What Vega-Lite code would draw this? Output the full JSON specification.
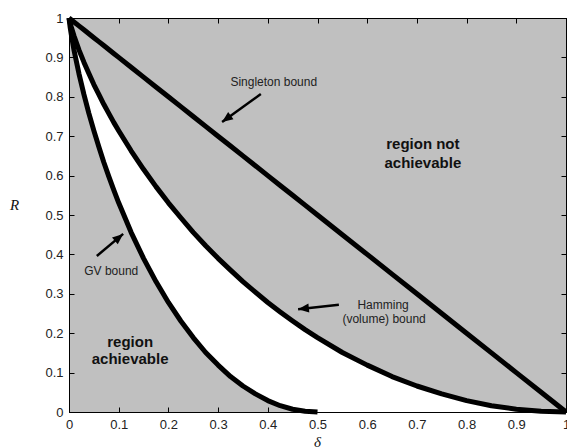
{
  "$schema": "https://vega.github.io/schema/vega-lite/v6.json",
  "width": 497,
  "height": 394,
  "autosize": {"type": "none"},
  "padding": {"left": 69, "top": 18, "right": 1, "bottom": 35},
  "background": "white",
  "config": {
    "view": {"fill": "#c0c0c0", "stroke": "#000000", "strokeWidth": 1},
    "axis": {
      "domainColor": "#000000",
      "domainWidth": 1,
      "tickColor": "#000000",
      "tickWidth": 1,
      "tickSize": -5,
      "grid": false,
      "labelFont": "Liberation Sans",
      "labelFontSize": 13,
      "labelColor": "#222222",
      "labelPadding": 11,
      "labelFlush": false,
      "labelOverlap": false,
      "titleFont": "Liberation Serif",
      "titleFontStyle": "italic",
      "titleFontWeight": "normal",
      "titleFontSize": 15,
      "titleColor": "#111111",
      "zindex": 1
    }
  },
  "datasets": {
    "bounds": [
      {"delta": 0, "gv": 1, "ham": 1, "sing": 1},
      {"delta": 0.0025, "gv": 0.975, "ham": 0.986, "sing": 0.9975},
      {"delta": 0.005, "gv": 0.955, "ham": 0.975, "sing": 0.995},
      {"delta": 0.01, "gv": 0.919, "ham": 0.955, "sing": 0.99},
      {"delta": 0.02, "gv": 0.859, "ham": 0.919, "sing": 0.98},
      {"delta": 0.03, "gv": 0.806, "ham": 0.888, "sing": 0.97},
      {"delta": 0.04, "gv": 0.758, "ham": 0.859, "sing": 0.96},
      {"delta": 0.05, "gv": 0.714, "ham": 0.831, "sing": 0.95},
      {"delta": 0.06, "gv": 0.673, "ham": 0.806, "sing": 0.94},
      {"delta": 0.07, "gv": 0.634, "ham": 0.781, "sing": 0.93},
      {"delta": 0.08, "gv": 0.598, "ham": 0.758, "sing": 0.92},
      {"delta": 0.09, "gv": 0.564, "ham": 0.735, "sing": 0.91},
      {"delta": 0.1, "gv": 0.531, "ham": 0.714, "sing": 0.9},
      {"delta": 0.125, "gv": 0.456, "ham": 0.663, "sing": 0.875},
      {"delta": 0.15, "gv": 0.39, "ham": 0.616, "sing": 0.85},
      {"delta": 0.175, "gv": 0.331, "ham": 0.572, "sing": 0.825},
      {"delta": 0.2, "gv": 0.278, "ham": 0.531, "sing": 0.8},
      {"delta": 0.225, "gv": 0.231, "ham": 0.493, "sing": 0.775},
      {"delta": 0.25, "gv": 0.189, "ham": 0.456, "sing": 0.75},
      {"delta": 0.275, "gv": 0.151, "ham": 0.422, "sing": 0.725},
      {"delta": 0.3, "gv": 0.119, "ham": 0.39, "sing": 0.7},
      {"delta": 0.325, "gv": 0.09, "ham": 0.36, "sing": 0.675},
      {"delta": 0.35, "gv": 0.066, "ham": 0.331, "sing": 0.65},
      {"delta": 0.375, "gv": 0.046, "ham": 0.304, "sing": 0.625},
      {"delta": 0.4, "gv": 0.029, "ham": 0.278, "sing": 0.6},
      {"delta": 0.425, "gv": 0.016, "ham": 0.254, "sing": 0.575},
      {"delta": 0.45, "gv": 0.007, "ham": 0.231, "sing": 0.55},
      {"delta": 0.475, "gv": 0.002, "ham": 0.209, "sing": 0.525},
      {"delta": 0.5, "gv": 0, "ham": 0.189, "sing": 0.5},
      {"delta": 0.55, "gv": 0, "ham": 0.151, "sing": 0.45},
      {"delta": 0.6, "gv": 0, "ham": 0.119, "sing": 0.4},
      {"delta": 0.65, "gv": 0, "ham": 0.09, "sing": 0.35},
      {"delta": 0.7, "gv": 0, "ham": 0.066, "sing": 0.3},
      {"delta": 0.75, "gv": 0, "ham": 0.046, "sing": 0.25},
      {"delta": 0.8, "gv": 0, "ham": 0.029, "sing": 0.2},
      {"delta": 0.85, "gv": 0, "ham": 0.016, "sing": 0.15},
      {"delta": 0.9, "gv": 0, "ham": 0.007, "sing": 0.1},
      {"delta": 0.95, "gv": 0, "ham": 0.002, "sing": 0.05},
      {"delta": 1, "gv": 0, "ham": 0, "sing": 0}
    ],
    "arrows": [
      {"name": "singleton", "tx": 0.386, "ty": 0.807, "hx": 0.308, "hy": 0.736},
      {"name": "hamming", "tx": 0.543, "ty": 0.272, "hx": 0.461, "hy": 0.261},
      {"name": "gv", "tx": 0.056, "ty": 0.396, "hx": 0.109, "hy": 0.452}
    ],
    "notes": [
      {"label": "Singleton bound", "delta": 0.412, "R": 0.838, "kind": "plain"},
      {"label": "Hamming", "delta": 0.632, "R": 0.272, "kind": "plain"},
      {"label": "(volume) bound", "delta": 0.634, "R": 0.236, "kind": "plain"},
      {"label": "GV bound", "delta": 0.085, "R": 0.358, "kind": "plain"},
      {"label": "region not", "delta": 0.712, "R": 0.68, "kind": "bold"},
      {"label": "achievable", "delta": 0.712, "R": 0.632, "kind": "bold"},
      {"label": "region", "delta": 0.123, "R": 0.178, "kind": "bold"},
      {"label": "achievable", "delta": 0.123, "R": 0.135, "kind": "bold"}
    ]
  },
  "resolve": {"axis": {"x": "independent", "y": "independent"}},
  "layer": [
    {
      "data": {"name": "bounds"},
      "mark": {"type": "area", "color": "#ffffff", "opacity": 1},
      "encoding": {
        "x": {
          "field": "delta", "type": "quantitative",
          "scale": {"domain": [0, 1], "nice": false, "zero": false},
          "axis": {
            "orient": "bottom",
            "values": [0, 0.1, 0.2, 0.3, 0.4, 0.5, 0.6, 0.7, 0.8, 0.9, 1],
            "format": "~g",
            "title": "δ",
            "titleX": 248,
            "titleY": 29,
            "titleBaseline": "middle"
          }
        },
        "y": {
          "field": "gv", "type": "quantitative",
          "scale": {"domain": [0, 1], "nice": false, "zero": false},
          "axis": {
            "orient": "left",
            "values": [0, 0.1, 0.2, 0.3, 0.4, 0.5, 0.6, 0.7, 0.8, 0.9, 1],
            "format": "~g",
            "title": "R",
            "titleAngle": 0,
            "titleX": -55,
            "titleY": 186,
            "titleAlign": "center",
            "titleBaseline": "middle"
          }
        },
        "y2": {"field": "ham"}
      }
    },
    {
      "data": {"name": "bounds"},
      "mark": {"type": "line", "color": "#000000", "strokeWidth": 5, "strokeJoin": "round"},
      "encoding": {
        "x": {
          "field": "delta", "type": "quantitative",
          "axis": {
            "orient": "top",
            "values": [0, 0.1, 0.2, 0.3, 0.4, 0.5, 0.6, 0.7, 0.8, 0.9, 1],
            "labels": false,
            "title": null
          }
        },
        "y": {
          "field": "sing", "type": "quantitative",
          "axis": {
            "orient": "right",
            "values": [0, 0.1, 0.2, 0.3, 0.4, 0.5, 0.6, 0.7, 0.8, 0.9, 1],
            "labels": false,
            "title": null
          }
        }
      }
    },
    {
      "data": {"name": "bounds"},
      "mark": {"type": "line", "color": "#000000", "strokeWidth": 5, "strokeJoin": "round"},
      "encoding": {
        "x": {"field": "delta", "type": "quantitative", "axis": null},
        "y": {"field": "ham", "type": "quantitative", "axis": null}
      }
    },
    {
      "data": {"name": "bounds"},
      "transform": [{"filter": "datum.delta <= 0.5"}],
      "mark": {"type": "line", "color": "#000000", "strokeWidth": 5, "strokeJoin": "round"},
      "encoding": {
        "x": {"field": "delta", "type": "quantitative", "axis": null},
        "y": {"field": "gv", "type": "quantitative", "axis": null}
      }
    },
    {
      "data": {"name": "arrows"},
      "mark": {"type": "rule", "color": "#000000", "strokeWidth": 2.5},
      "encoding": {
        "x": {"field": "tx", "type": "quantitative", "axis": null},
        "y": {"field": "ty", "type": "quantitative", "axis": null},
        "x2": {"field": "hx"},
        "y2": {"field": "hy"}
      }
    },
    {
      "data": {"name": "arrows"},
      "transform": [{"filter": "datum.name == 'singleton'"}],
      "mark": {"type": "point", "shape": "M0,0L0.75,1.8L-0.75,1.8Z", "size": 144, "filled": true, "color": "#000000", "opacity": 1, "angle": 234, "strokeWidth": 0},
      "encoding": {
        "x": {"field": "hx", "type": "quantitative", "axis": null},
        "y": {"field": "hy", "type": "quantitative", "axis": null}
      }
    },
    {
      "data": {"name": "arrows"},
      "transform": [{"filter": "datum.name == 'hamming'"}],
      "mark": {"type": "point", "shape": "M0,0L0.75,1.8L-0.75,1.8Z", "size": 144, "filled": true, "color": "#000000", "opacity": 1, "angle": 264, "strokeWidth": 0},
      "encoding": {
        "x": {"field": "hx", "type": "quantitative", "axis": null},
        "y": {"field": "hy", "type": "quantitative", "axis": null}
      }
    },
    {
      "data": {"name": "arrows"},
      "transform": [{"filter": "datum.name == 'gv'"}],
      "mark": {"type": "point", "shape": "M0,0L0.75,1.8L-0.75,1.8Z", "size": 144, "filled": true, "color": "#000000", "opacity": 1, "angle": 50, "strokeWidth": 0},
      "encoding": {
        "x": {"field": "hx", "type": "quantitative", "axis": null},
        "y": {"field": "hy", "type": "quantitative", "axis": null}
      }
    },
    {
      "data": {"name": "notes"},
      "transform": [{"filter": "datum.kind == 'plain'"}],
      "mark": {"type": "text", "font": "Liberation Sans", "fontSize": 12, "color": "#222222", "align": "center", "baseline": "middle"},
      "encoding": {
        "x": {"field": "delta", "type": "quantitative", "axis": null},
        "y": {"field": "R", "type": "quantitative", "axis": null},
        "text": {"field": "label"}
      }
    },
    {
      "data": {"name": "notes"},
      "transform": [{"filter": "datum.kind == 'bold'"}],
      "mark": {"type": "text", "font": "Liberation Sans", "fontSize": 15, "fontWeight": "bold", "color": "#111111", "align": "center", "baseline": "middle"},
      "encoding": {
        "x": {"field": "delta", "type": "quantitative", "axis": null},
        "y": {"field": "R", "type": "quantitative", "axis": null},
        "text": {"field": "label"}
      }
    }
  ]
}
